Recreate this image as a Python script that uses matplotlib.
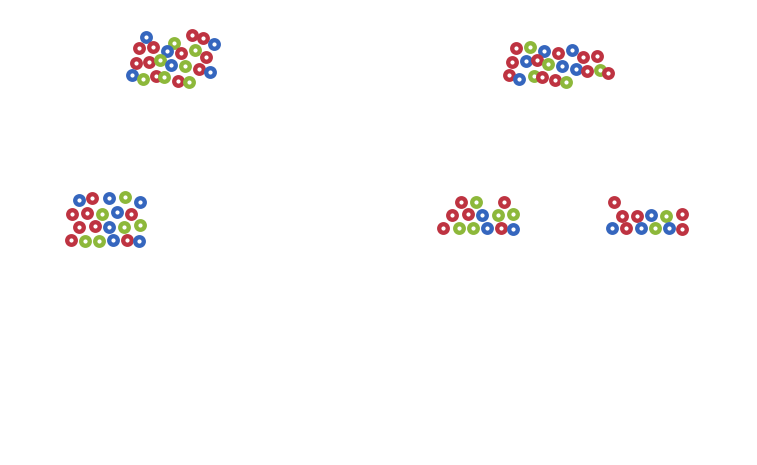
import matplotlib.pyplot as plt

RED = "#be3341"
BLUE = "#3566be"
GREEN = "#8db83a"
COLORS = {"r": RED, "b": BLUE, "g": GREEN}

# each cluster: x, y (pixel positions), colour codes
c1_x = [146, 192, 203, 214, 174, 139, 153, 167, 181, 195, 206, 136, 149, 160, 171, 185, 199, 210, 132, 143, 156, 164, 178, 189]
c1_y = [37, 35, 38, 44, 43, 48, 47, 51, 53, 50, 57, 63, 62, 60, 65, 66, 69, 72, 75, 79, 76, 77, 81, 82]
c1_c = ["b", "r", "r", "b", "g", "r", "r", "b", "r", "g", "r", "r", "r", "g", "b", "g", "r", "b", "b", "g", "r", "g", "r", "g"]

c2_x = [516, 530, 544, 558, 572, 583, 597, 512, 526, 537, 548, 562, 576, 587, 600, 608, 509, 519, 534, 542, 555, 566]
c2_y = [48, 47, 51, 53, 50, 57, 56, 62, 61, 60, 64, 66, 69, 71, 70, 73, 75, 79, 76, 77, 80, 82]
c2_c = ["r", "g", "b", "r", "b", "r", "r", "r", "b", "r", "g", "b", "b", "r", "g", "r", "r", "b", "g", "r", "r", "g"]

c3_x = [79, 92, 109, 125, 140, 72, 87, 102, 117, 131, 79, 95, 109, 124, 140, 71, 85, 99, 113, 127, 139]
c3_y = [200, 198, 198, 197, 202, 214, 213, 214, 212, 214, 227, 226, 227, 227, 225, 240, 241, 241, 240, 240, 241]
c3_c = ["b", "r", "b", "g", "b", "r", "r", "g", "b", "r", "r", "r", "b", "g", "g", "r", "g", "g", "b", "r", "b"]

c4_x = [461, 476, 504, 452, 468, 482, 498, 513, 443, 459, 473, 487, 501, 513]
c4_y = [202, 202, 202, 215, 214, 215, 215, 214, 228, 228, 228, 228, 228, 229]
c4_c = ["r", "g", "r", "r", "r", "b", "g", "g", "r", "g", "g", "b", "r", "b"]

c5_x = [614, 622, 637, 651, 666, 682, 612, 626, 641, 655, 669, 682]
c5_y = [202, 216, 216, 215, 216, 214, 228, 228, 228, 228, 228, 229]
c5_c = ["r", "r", "r", "b", "g", "r", "b", "r", "b", "g", "b", "r"]

clusters = [(c1_x, c1_y, c1_c), (c2_x, c2_y, c2_c), (c3_x, c3_y, c3_c),
            (c4_x, c4_y, c4_c), (c5_x, c5_y, c5_c)]

fig = plt.figure(figsize=(7.57, 4.65), dpi=100)
ax = fig.add_axes([0, 0, 1, 1])
ax.set_xlim(-0.5, 756.5)
ax.set_ylim(464.5, -0.5)
ax.axis("off")

for xs, ys, cs in clusters:
    ax.scatter(xs, ys, s=38, facecolor="white",
               edgecolor=[COLORS[c] for c in cs], linewidth=3.1)

fig.savefig("out.png", dpi=100)
